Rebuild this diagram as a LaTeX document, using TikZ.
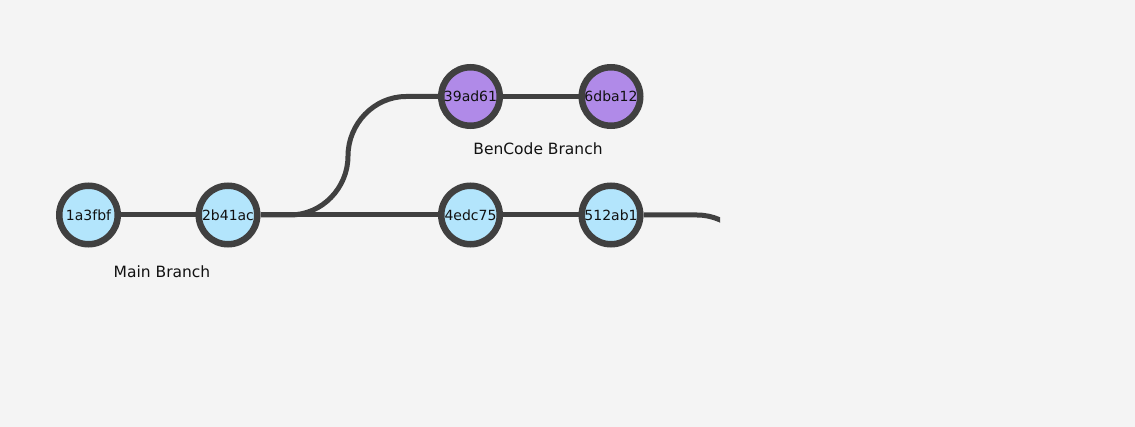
\documentclass[tikz,border=0pt]{standalone}
\usepackage{fontspec}
\setmainfont{DejaVu Sans}
\usetikzlibrary{backgrounds}
\definecolor{bg}{HTML}{F4F4F4}
\definecolor{edgec}{HTML}{404040}
\definecolor{mainfill}{HTML}{B3E5FC}
\definecolor{benfill}{HTML}{B08AE8}
\definecolor{txt}{HTML}{111111}
\tikzset{
  commit/.style={circle, draw=edgec, line width=6.5pt, inner sep=0pt, minimum size=58.5pt,
    font=\fontsize{14}{16}\selectfont, text=txt},
  maincommit/.style={commit, fill=mainfill},
  bencommit/.style={commit, fill=benfill},
  branchlabel/.style={font=\fontsize{15.5}{18}\selectfont, text=txt, inner sep=0pt},
  link/.style={draw=edgec, line width=5pt}
}
\begin{document}
\begin{tikzpicture}[x=1pt, y=-1pt]
\useasboundingbox (0,0) rectangle (1135,427);
\node[maincommit] (c1) at (88.5,215) {1a3fbf};
\node[maincommit] (c2) at (228,215) {2b41ac};
\node[maincommit] (c3) at (470.5,215) {4edc75};
\node[maincommit] (c4) at (611,215) {512ab1};
\node[bencommit] (b1) at (470.5,96.5) {39ad61};
\node[bencommit] (b2) at (611,96.5) {6dba12};
\node[branchlabel] (lmain) at (162,272) {Main Branch};
\node[branchlabel] (lben) at (538,149) {BenCode Branch};
\coordinate (fork) at (290,215);
\coordinate (tail) at (697,215);
\begin{pgfonlayer}{background}
\fill[bg] (0,0) rectangle (1135,427);
\draw[link] (c1) -- (c2);
\draw[link] (c2) -- (c3);
\draw[link] (c3) -- (c4);
\draw[link] (b1) -- (b2);
\draw[link] (c2.east) -- (fork) .. controls (322,215) and (348,188) .. (348,156)
  .. controls (348,124) and (374,96.5) .. (406,96.5) -- (b1.west);
\begin{scope}
\clip (600,150) rectangle (720,260);
\draw[link] (c4) -- (tail) .. controls (729,215) and (755,242) .. (755,274);
\end{scope}
\end{pgfonlayer}
\end{tikzpicture}
\end{document}
